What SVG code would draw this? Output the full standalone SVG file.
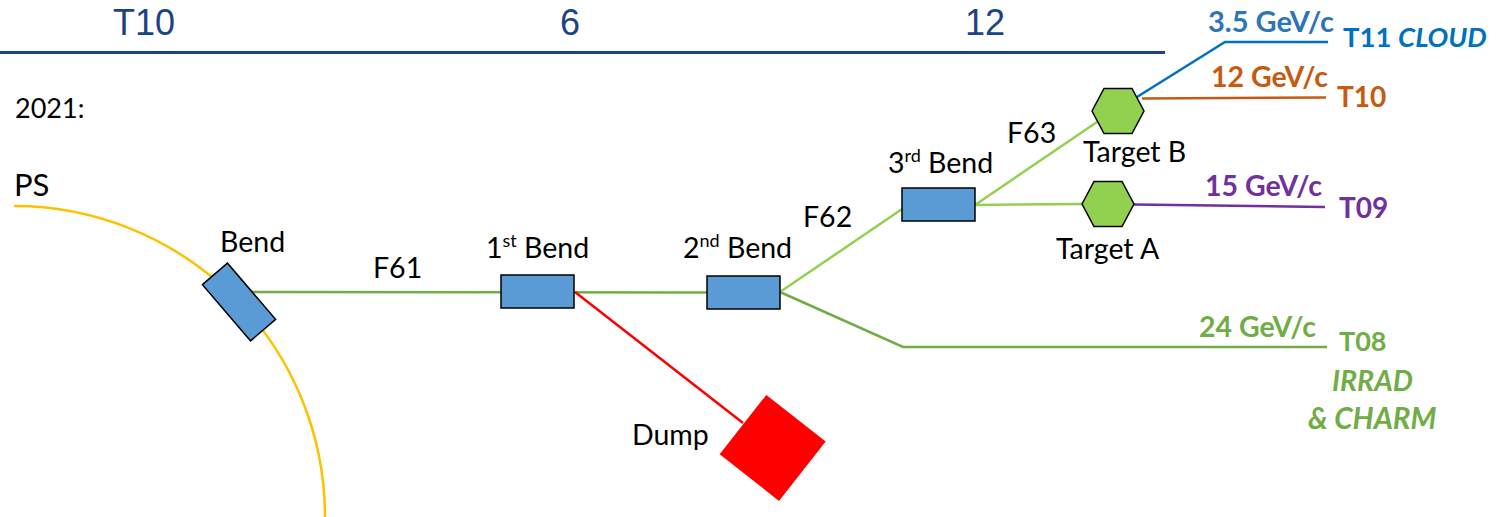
<svg xmlns="http://www.w3.org/2000/svg" width="1503" height="517" viewBox="0 0 1503 517">
<style>
.hdr{font-family:"Liberation Sans",Arial,sans-serif;font-size:36px;fill:#1B4486;text-anchor:middle}
.lbl{font-family:Lato,"Open Sans",sans-serif;font-size:28.5px;fill:#000}
.b{font-family:Lato,"Open Sans",sans-serif;font-weight:bold}
.mag{fill:#5B9BD5;stroke:#000;stroke-width:1.5}
.hex{fill:#92D050;stroke:#000;stroke-width:1.5}
.c{fill:none;stroke-width:2.5}
</style>
<rect width="1503" height="517" fill="#fff"/>
<g id="header">
<text class="hdr" x="144" y="35">T10</text>
<text class="hdr" x="570" y="35">6</text>
<text class="hdr" x="985" y="35">12</text>
<line x1="0" y1="52.5" x2="1165" y2="52.5" stroke="#1B4486" stroke-width="3"/>
</g>
<text class="lbl" x="15" y="118" style="font-size:27px">2021:</text>
<g id="ps">
<path class="c" d="M14,206 A311,311 0 0 1 325,517" stroke="#FFC000"/>
<text class="lbl" x="14" y="196" style="font-size:31px">PS</text>
</g>
<g id="connectors">
<line class="c" x1="252" y1="292" x2="707" y2="292.5" stroke="#70AD47"/>
<line class="c" x1="575" y1="292" x2="743" y2="423" stroke="#FF0000"/>
<polyline class="c" points="780,292 903,347 1327,347" stroke="#70AD47"/>
<line class="c" x1="780" y1="292" x2="908" y2="205" stroke="#92D050"/>
<line class="c" x1="975" y1="205" x2="1097" y2="122" stroke="#92D050"/>
<line class="c" x1="975" y1="205" x2="1082" y2="204" stroke="#92D050"/>
<line class="c" x1="1134" y1="204.5" x2="1325" y2="207" stroke="#7030A0"/>
<line class="c" x1="1142" y1="98.5" x2="1326" y2="97.5" stroke="#C55A11"/>
<polyline class="c" points="1137,97 1225,42 1328,42" stroke="#0070C0"/>
<text class="lbl" x="373" y="278">F61</text>
<text class="lbl" x="803" y="227">F62</text>
<text class="lbl" x="1007" y="143">F63</text>
</g>
<g id="bend0">
<rect class="mag" x="202" y="285.5" width="74" height="33" transform="rotate(49.4 239 302)"/>
<text class="lbl" x="220" y="252">Bend</text>
</g>
<g id="bend1">
<rect class="mag" x="501" y="275" width="73" height="33"/>
<text class="lbl" x="486" y="258">1<tspan font-size="18" dy="-11">st</tspan><tspan dy="11"> Bend</tspan></text>
</g>
<g id="bend2">
<rect class="mag" x="707" y="276" width="73" height="33"/>
<text class="lbl" x="683" y="258">2<tspan font-size="18" dy="-11">nd</tspan><tspan dy="11"> Bend</tspan></text>
</g>
<g id="bend3">
<rect class="mag" x="902" y="188" width="73" height="33"/>
<text class="lbl" x="888" y="173">3<tspan font-size="18" dy="-11">rd</tspan><tspan dy="11"> Bend</tspan></text>
</g>
<g id="dump">
<rect x="735" y="410" width="75.5" height="75.5" fill="#FF0000" transform="rotate(38.2 772.5 447.7)"/>
<text class="lbl" x="632" y="445">Dump</text>
</g>
<g id="targetB">
<polygon class="hex" points="1092,111 1104,88.5 1132,88.5 1144,111 1132,133.5 1104,133.5"/>
<text class="lbl" x="1083" y="162">Target B</text>
</g>
<g id="targetA">
<polygon class="hex" points="1082,204 1094,181.5 1122,181.5 1134,204 1122,226.5 1094,226.5"/>
<text class="lbl" x="1056" y="259">Target A</text>
</g>
<g id="t11">
<text class="b" x="1208" y="32" font-size="29" fill="#2E75B6">3.5 GeV/c</text>
<text class="b" x="1343" y="47" font-size="27.5" fill="#0070C0">T11 <tspan font-style="italic">CLOUD</tspan></text>
</g>
<g id="t10">
<text class="b" x="1211" y="87" font-size="28.5" fill="#C55A11">12 GeV/c</text>
<text class="b" x="1337" y="107" font-size="28" fill="#C55A11">T10</text>
</g>
<g id="t09">
<text class="b" x="1205" y="196" font-size="28.5" fill="#7030A0">15 GeV/c</text>
<text class="b" x="1339" y="218" font-size="28" fill="#7030A0">T09</text>
</g>
<g id="t08">
<text class="b" x="1199" y="337" font-size="28.5" fill="#70AD47">24 GeV/c</text>
<text class="b" x="1339" y="351" font-size="27" fill="#70AD47">T08</text>
<text class="b" x="1332" y="391" font-size="28.5" font-style="italic" fill="#70AD47">IRRAD</text>
<text class="b" x="1308" y="429" font-size="29.5" font-style="italic" fill="#70AD47">&amp; CHARM</text>
</g>
</svg>
